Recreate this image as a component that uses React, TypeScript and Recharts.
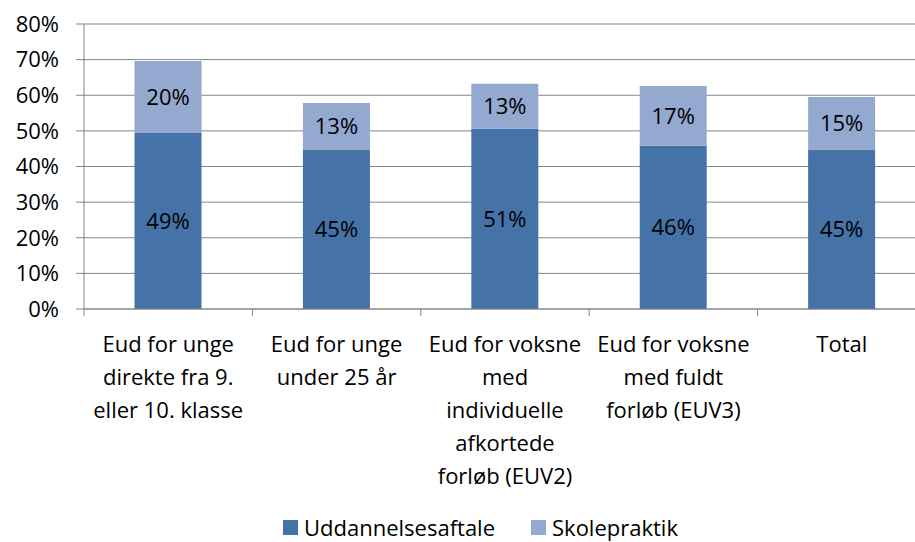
import React from "react";
import {
  BarChart,
  Bar,
  XAxis,
  YAxis,
  CartesianGrid,
  Legend,
  LabelList,
} from "recharts";

const categories = [
  "Eud for unge\ndirekte fra 9.\neller 10. klasse",
  "Eud for unge\nunder 25 år",
  "Eud for voksne\nmed\nindividuelle\nafkortede\nforløb (EUV2)",
  "Eud for voksne\nmed fuldt\nforløb (EUV3)",
  "Total",
];
const uddannelsesaftale = [49.4, 44.6, 50.6, 45.8, 44.8];
const skolepraktik = [20.2, 13.2, 12.6, 16.8, 14.7];
const yTicks = [0, 10, 20, 30, 40, 50, 60, 70, 80];

const DARK = "#4572A7";
const LIGHT = "#93A9CF";
const GRID = "#868686";
const FONT = "'Open Sans', sans-serif";
const FS = 22;

const data = categories.map((name, i) => ({
  name,
  udd: uddannelsesaftale[i],
  skole: skolepraktik[i],
}));

const CHART_W = 930;
const PLOT_LEFT = 84;
const PLOT_RIGHT = 926;
const HALF_BAND = (PLOT_RIGHT - PLOT_LEFT) / categories.length / 2;

const CategoryTick = (props: any) => {
  const { x, y, payload } = props;
  const lines = String(payload.value).split("\n");
  return (
    <g>
      <line x1={x - HALF_BAND} x2={x - HALF_BAND} y1={y} y2={y + 7} stroke={GRID} />
      <text x={x} y={y} textAnchor="middle" fontSize={FS} fontFamily={FONT} fill="#000">
        {lines.map((l, i) => (
          <tspan key={i} x={x} dy={i === 0 ? 43 : 33}>
            {l}
          </tspan>
        ))}
      </text>
    </g>
  );
};

const LegendContent = () => (
  <div
    style={{
      display: "flex",
      justifyContent: "center",
      fontFamily: FONT,
      fontSize: FS,
      color: "#000",
      paddingLeft: 46,
      height: 24,
      lineHeight: "24px",
    }}
  >
    {[
      { label: "Uddannelsesaftale", color: DARK },
      { label: "Skolepraktik", color: LIGHT },
    ].map((it, i) => (
      <span key={i} style={{ display: "flex", alignItems: "center", marginRight: i === 0 ? 36 : 0 }}>
        <span style={{ width: 15, height: 15, background: it.color, marginRight: 6, display: "inline-block" }} />
        {it.label}
      </span>
    ))}
  </div>
);

const pct = (v: any) => `${Math.round(Number(v))}%`;

export default function App() {
  return (
    <div
      style={{
        position: "fixed",
        top: 0,
        left: 0,
        width: 915,
        height: 542,
        overflow: "hidden",
        background: "#fff",
      }}
    >
      <BarChart
        width={CHART_W}
        height={542}
        data={data}
        margin={{ top: 24, right: CHART_W - PLOT_RIGHT, bottom: 0, left: 0 }}
        barCategoryGap="30%"
      >
        <CartesianGrid vertical={false} stroke={GRID} strokeWidth={1} />
        <XAxis
          dataKey="name"
          interval={0}
          height={190}
          tickLine={false}
          tickSize={0}
          axisLine={{ stroke: GRID }}
          tick={<CategoryTick />}
          tickMargin={0}
        />
        <YAxis
          domain={[0, 80]}
          ticks={yTicks}
          width={PLOT_LEFT}
          tickSize={8}
          tickLine={{ stroke: GRID }}
          axisLine={{ stroke: GRID }}
          tickFormatter={(v) => `${v}%`}
          tick={{ fontSize: FS, fontFamily: FONT, fill: "#000" }}
          tickMargin={17}
        />
        <Legend
          verticalAlign="bottom"
          height={43}
          content={<LegendContent />}
          wrapperStyle={{ top: 515, bottom: "auto", left: 0, width: 915 }}
        />
        <Bar dataKey="udd" stackId="a" fill={DARK} isAnimationActive={false}>
          <LabelList dataKey="udd" position="center" formatter={pct} fontSize={FS} fontFamily={FONT} fill="#000" />
        </Bar>
        <Bar dataKey="skole" stackId="a" fill={LIGHT} isAnimationActive={false}>
          <LabelList dataKey="skole" position="center" formatter={pct} fontSize={FS} fontFamily={FONT} fill="#000" />
        </Bar>
      </BarChart>
    </div>
  );
}
